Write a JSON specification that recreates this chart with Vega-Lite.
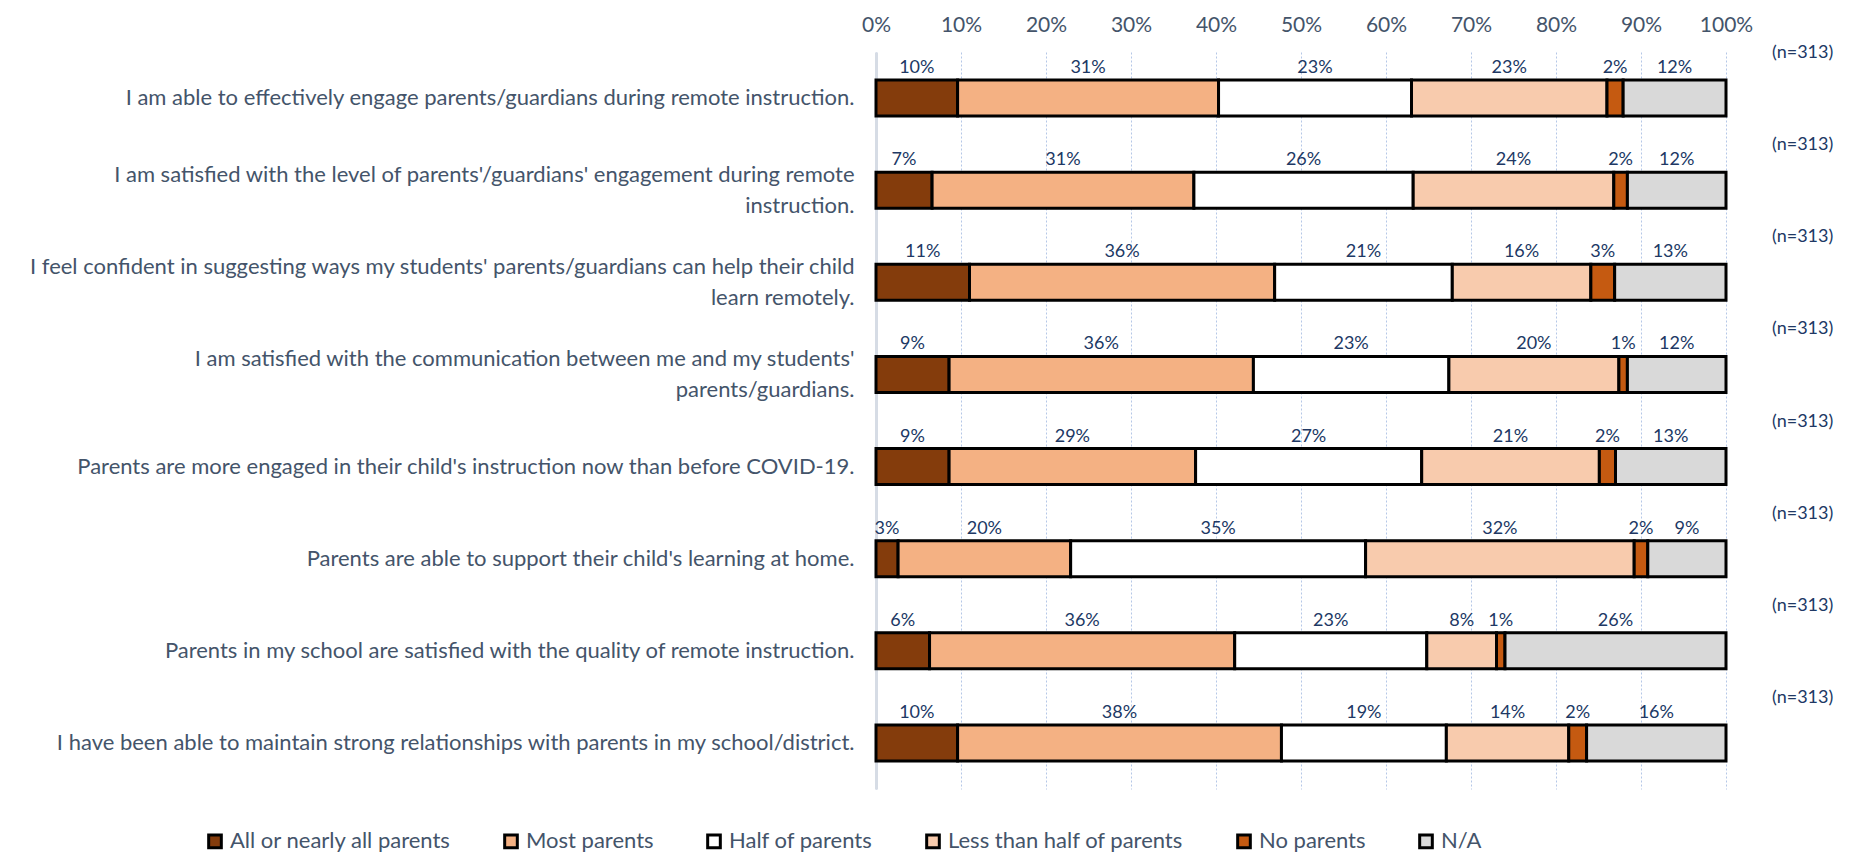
{
  "$schema": "https://vega.github.io/schema/vega-lite/v6.json",
  "width": 850,
  "height": 737,
  "autosize": {"type": "none"},
  "padding": {"left": 876, "top": 52, "right": 134, "bottom": 66},
  "background": "white",
  "config": {"view": {"stroke": null}, "font": "Lato"},
  "datasets": {
    "questions": [
      {"q": "I am able to effectively engage parents/guardians during remote instruction.", "n": 313, "All or nearly all parents": 0.096, "Most parents": 0.307, "Half of parents": 0.227, "Less than half of parents": 0.230, "No parents": 0.019, "N/A": 0.121},
      {"q": "I am satisfied with the level of parents'/guardians' engagement during remote\ninstruction.", "n": 313, "All or nearly all parents": 0.066, "Most parents": 0.308, "Half of parents": 0.258, "Less than half of parents": 0.236, "No parents": 0.016, "N/A": 0.116},
      {"q": "I feel confident in suggesting ways my students' parents/guardians can help their child\nlearn remotely.", "n": 313, "All or nearly all parents": 0.110, "Most parents": 0.359, "Half of parents": 0.209, "Less than half of parents": 0.163, "No parents": 0.028, "N/A": 0.131},
      {"q": "I am satisfied with the communication between me and my students'\nparents/guardians.", "n": 313, "All or nearly all parents": 0.086, "Most parents": 0.358, "Half of parents": 0.230, "Less than half of parents": 0.200, "No parents": 0.010, "N/A": 0.116},
      {"q": "Parents are more engaged in their child's instruction now than before COVID-19.", "n": 313, "All or nearly all parents": 0.086, "Most parents": 0.290, "Half of parents": 0.266, "Less than half of parents": 0.209, "No parents": 0.019, "N/A": 0.130},
      {"q": "Parents are able to support their child's learning at home.", "n": 313, "All or nearly all parents": 0.026, "Most parents": 0.203, "Half of parents": 0.347, "Less than half of parents": 0.316, "No parents": 0.016, "N/A": 0.092},
      {"q": "Parents in my school are satisfied with the quality of remote instruction.", "n": 313, "All or nearly all parents": 0.063, "Most parents": 0.359, "Half of parents": 0.226, "Less than half of parents": 0.082, "No parents": 0.010, "N/A": 0.260},
      {"q": "I have been able to maintain strong relationships with parents in my school/district.", "n": 313, "All or nearly all parents": 0.096, "Most parents": 0.381, "Half of parents": 0.194, "Less than half of parents": 0.144, "No parents": 0.021, "N/A": 0.164}
    ],
    "levels": [
      {"r": "All or nearly all parents", "c": 1},
      {"r": "Most parents", "c": 2},
      {"r": "Half of parents", "c": 3},
      {"r": "Less than half of parents", "c": 4},
      {"r": "No parents", "c": 5},
      {"r": "N/A", "c": 6}
    ]
  },
  "data": {"name": "questions"},
  "layer": [
    {
      "transform": [
        {"fold": ["All or nearly all parents", "Most parents", "Half of parents", "Less than half of parents", "No parents", "N/A"], "as": ["r", "v"]},
        {"lookup": "r", "from": {"data": {"name": "levels"}, "key": "r", "fields": ["c"]}}
      ],
      "mark": {"type": "bar", "size": 36, "stroke": "black", "strokeWidth": 3},
      "encoding": {
        "y": {
          "field": "q", "type": "nominal", "sort": null,
          "axis": {
            "title": null, "ticks": false, "domain": true, "domainColor": "#D6DCE5", "domainWidth": 3,
            "labelFont": "Lato", "labelFontSize": 22, "labelColor": "#44546A", "labelPadding": 22,
            "labelLimit": 1000, "labelExpr": "split(datum.label, '\\n')", "labelLineHeight": 31,
            "labelAlign": "right", "labelBaseline": "middle",
            "labelOffset": {"expr": "indexof(datum.value, '\\n') >= 0 ? -15.5 : 0"}
          }
        },
        "x": {
          "field": "v", "type": "quantitative", "stack": "zero",
          "scale": {"domain": [0, 1], "nice": false},
          "axis": {
            "orient": "top", "title": null, "format": ".0%",
            "values": [0, 0.1, 0.2, 0.3, 0.4, 0.5, 0.6, 0.7, 0.8, 0.9, 1],
            "domain": false, "ticks": false, "grid": true, "gridColor": "#B4C7E7", "gridDash": [2, 2], "gridWidth": 1,
            "labelFont": "Lato", "labelFontSize": 21, "labelColor": "#44546A", "labelPadding": 17, "labelFlush": false
          }
        },
        "color": {
          "field": "r", "type": "nominal",
          "sort": ["All or nearly all parents", "Most parents", "Half of parents", "Less than half of parents", "No parents", "N/A"],
          "scale": {
            "domain": ["All or nearly all parents", "Most parents", "Half of parents", "Less than half of parents", "No parents", "N/A"],
            "range": ["#843C0C", "#F4B183", "#FFFFFF", "#F8CBAD", "#C55A11", "#D9D9D9"]
          },
          "legend": {
            "title": null, "orient": "none", "direction": "horizontal", "legendX": -672, "legendY": 778,
            "symbolType": "square", "symbolSize": 160, "symbolStrokeColor": "black", "symbolStrokeWidth": 3,
            "labelFont": "Lato", "labelFontSize": 22, "labelColor": "#44546A", "columnPadding": 47, "labelOffset": 4, "labelLimit": 400
          }
        },
        "order": {"field": "c", "type": "quantitative"}
      }
    },
    {
      "transform": [
        {"fold": ["All or nearly all parents", "Most parents", "Half of parents", "Less than half of parents", "No parents", "N/A"], "as": ["r", "v"]},
        {"lookup": "r", "from": {"data": {"name": "levels"}, "key": "r", "fields": ["c"]}}
      ],
      "mark": {"type": "text", "dy": -30, "fontSize": 18, "font": "Lato", "color": "#203864", "baseline": "middle"},
      "encoding": {
        "y": {"field": "q", "type": "nominal", "sort": null},
        "x": {"field": "v", "type": "quantitative", "stack": "zero", "bandPosition": 0.5},
        "detail": {"field": "r"},
        "order": {"field": "c", "type": "quantitative"},
        "text": {"field": "v", "type": "quantitative", "format": ".0%"}
      }
    },
    {
      "mark": {"type": "text", "text": {"expr": "'(n=' + datum.n + ')'"}, "align": "left", "dx": 46, "dy": -45, "fontSize": 18, "font": "Lato", "color": "#203864", "baseline": "middle"},
      "encoding": {
        "y": {"field": "q", "type": "nominal", "sort": null},
        "x": {"datum": 1}
      }
    }
  ]
}
